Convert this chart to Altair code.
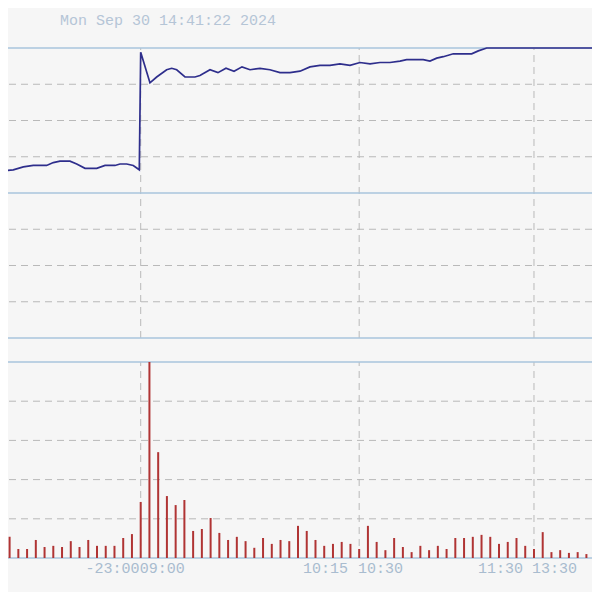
import altair as alt
import pandas as pd

# ---- data ----
title_text = ["Mon Sep 30 14:41:22 2024"]

line_t = [0.0, 1.42, 2.57, 3.71, 5.24, 6.0, 6.77, 7.91, 8.68, 9.63, 10.97, 11.92, 13.06, 13.63,
          14.4, 15.15, 15.84, 16.0, 17.06, 17.83, 18.97, 19.55, 20.12, 21.07, 22.21, 22.78,
          23.93, 24.84, 25.76, 26.68, 27.59, 28.51, 29.65, 30.79, 31.94, 33.08, 34.23, 35.37,
          36.51, 37.66, 38.8, 39.95, 41.09, 42.24, 43.38, 44.52, 45.67, 46.43, 48.33, 49.1,
          49.87, 50.62, 51.77, 53.87, 54.63, 55.59, 68.55]
line_price = [10.15, 10.16, 10.18, 10.19, 10.19, 10.21, 10.22, 10.22, 10.20, 10.17, 10.17, 10.19,
              10.19, 10.20, 10.20, 10.19, 10.16, 10.97, 10.76, 10.80, 10.85, 10.86, 10.85, 10.80,
              10.80, 10.81, 10.85, 10.83, 10.86, 10.84, 10.87, 10.85, 10.86, 10.85, 10.83, 10.83,
              10.84, 10.87, 10.88, 10.88, 10.89, 10.88, 10.90, 10.89, 10.90, 10.90, 10.91, 10.92,
              10.92, 10.91, 10.93, 10.94, 10.96, 10.96, 10.98, 11.00, 11.00]

volume = [330, 540, 230, 230, 460, 280, 310, 280, 430, 280, 460, 310, 310, 310, 510, 610,
          1430, 5000, 2700, 1580, 1350, 1480, 690, 740, 1020, 640, 460, 540, 430, 260, 510,
          360, 460, 430, 820,
          690, 460, 310, 360, 410, 360, 230, 820, 410, 200, 510, 280, 150, 310, 200, 310,
          230, 510, 510, 540, 590, 540, 360, 410, 510, 310, 230, 660, 150, 200, 130, 150,
          100, 130]
bar_t = list(range(len(volume)))

price_solid = [9.0, 10.0, 11.0]
price_dashed = [9.25, 9.5, 9.75, 10.25, 10.5, 10.75]
vol_solid = [0, 5000]
vol_dashed = [1000, 2000, 3000, 4000]
session_breaks = [16, 41, 61]

labels_right = ["-23:00", "10:15", "11:30"]
labels_right_t = [15.86, 39.72, 59.74]
labels_left = ["09:00", "10:30", "13:30"]
labels_left_t = [15.9, 40.86, 60.77]

# ---- styles ----
BG = "#f6f6f6"
SOLID = "#a9c4dc"
DASH = "#b9b9b9"
TXT = "#a9bccf"
FONT = "Liberation Mono"

W, H = 584, 584
xs = alt.Scale(domain=[0.817, 67.64], nice=False, zero=False, padding=0)
ps = alt.Scale(domain=[9.0, 11.0], range=[330, 40], nice=False, zero=False)
vs = alt.Scale(domain=[0, 5000], range=[550, 354], nice=False, zero=False)

line_df = pd.DataFrame({"t": line_t, "price": line_price})
bar_df = pd.DataFrame({"t": bar_t, "volume": volume})

def hrules(vals, scale, color, dash=None, width=1.0):
    kw = dict(color=color, strokeWidth=width)
    if dash:
        kw["strokeDash"] = dash
    return alt.Chart(pd.DataFrame({"v": vals})).mark_rule(**kw).encode(
        y=alt.Y("v:Q", scale=scale, axis=None))

def vrules(lo, hi, scale):
    return alt.Chart(pd.DataFrame({"t": session_breaks})).mark_rule(
        color=DASH, strokeDash=[7, 5], strokeWidth=1).encode(
        x=alt.X("t:Q", scale=xs, axis=None),
        y=alt.YDatum(lo, type="quantitative", scale=scale, axis=None),
        y2=alt.Y2Datum(hi))

layers = [
    hrules(price_dashed, ps, DASH, [7, 5], 1),
    hrules(vol_dashed, vs, DASH, [7, 5], 1),
    vrules(9.0, 11.0, ps),
    vrules(0, 5000, vs),
    hrules(price_solid, ps, SOLID, None, 1.5),
    hrules(vol_solid, vs, SOLID, None, 1.5),
    alt.Chart(bar_df).mark_bar(size=2, color="#b03434", clip=True).encode(
        x=alt.X("t:Q", scale=xs, axis=None),
        y=alt.Y("volume:Q", scale=vs, axis=None)),
    alt.Chart(line_df).mark_line(color="#2e2e8c", strokeWidth=1.7, clip=True).encode(
        x=alt.X("t:Q", scale=xs, axis=None),
        y=alt.Y("price:Q", scale=ps, axis=None)),
    alt.Chart(pd.DataFrame({"s": title_text})).mark_text(
        align="left", baseline="middle", font=FONT, fontSize=15, color="#b5c5d6").encode(
        text="s:N", x=alt.value(52), y=alt.value(12)),
    alt.Chart(pd.DataFrame({"s": labels_right, "t": labels_right_t})).mark_text(
        align="right", baseline="middle", font=FONT, fontSize=15, color=TXT).encode(
        text="s:N", x=alt.X("t:Q", scale=xs, axis=None), y=alt.value(560)),
    alt.Chart(pd.DataFrame({"s": labels_left, "t": labels_left_t})).mark_text(
        align="left", baseline="middle", font=FONT, fontSize=15, color=TXT).encode(
        text="s:N", x=alt.X("t:Q", scale=xs, axis=None), y=alt.value(560)),
]

chart = alt.layer(*layers).resolve_scale(y="independent").properties(
    width=W, height=H, background=BG, padding=0,
    autosize=alt.AutoSizeParams(type="none"),
).configure_view(stroke=None)

chart.save("out.html", embed_options={"renderer": "svg", "actions": False})
